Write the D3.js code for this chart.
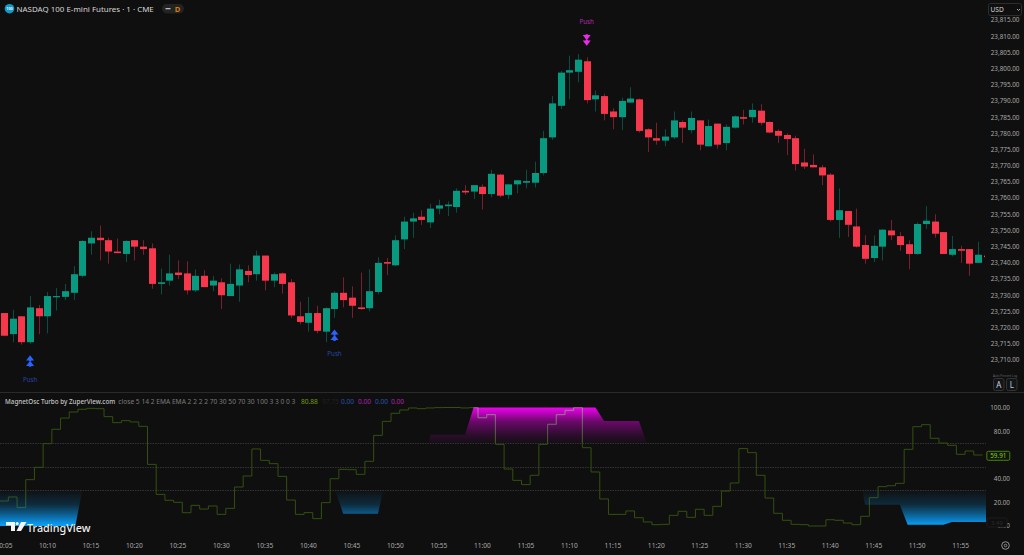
<!DOCTYPE html>
<html><head><meta charset="utf-8">
<script src="https://cdn.jsdelivr.net/npm/d3@7/dist/d3.min.js"></script>
<style>
html,body{margin:0;padding:0;background:#0f0f0f;overflow:hidden}
svg{display:block}
text{font-family:"Noto Sans","Open Sans",sans-serif}
</style></head><body>
<script>
// ---- data: one bar per minute, starting at 10:05
const opens=[23724.5,23718,23723.5,23715.5,23726,23723.5,23729.5,23729.5,23730.75,23736,23746,23747.75,23747,23743.5,23742.75,23747,23745,23744.5,23733.5,23734.5,23737,23736.75,23731.5,23736,23733,23734,23729.75,23733,23737.5,23736.5,23742.25,23734.5,23736.75,23734,23723.5,23721.5,23724.5,23718.75,23725.75,23730.75,23729.25,23726.25,23726,23731,23740.25,23739.25,23747.25,23752.75,23754.25,23752.5,23756.75,23757.5,23757.25,23762.25,23762,23763.5,23761.25,23767.25,23761,23764.25,23764.75,23764.75,23767.75,23778.75,23788.5,23798.75,23799,23802.25,23790.5,23791.5,23786.75,23785,23789.5,23790.5,23781.25,23778.5,23777.75,23778.75,23783.5,23781,23784,23776,23783,23777,23781.75,23785,23785,23787,23783.5,23780.75,23779.5,23778.5,23771,23770.25,23769.5,23767.25,23753.25,23756,23751.25,23745.5,23741.5,23745,23750,23748.25,23745.75,23742.75,23752,23752.75,23749.5,23742.5,23744.25,23744.25,23740,23742.25];
const highs=[23724.5,23725.5,23723.5,23729.75,23727,23731,23732.25,23733.5,23739,23747,23749.75,23751.5,23747.75,23747.5,23747,23747,23747,23746,23738.25,23742.5,23740.75,23740.5,23738,23737.75,23736,23735.25,23739.75,23739.5,23739.25,23743.75,23742.25,23737,23737,23735,23728,23729.5,23726.75,23726.25,23731.25,23735.5,23732.75,23737,23738,23741.75,23741.5,23748.5,23754.25,23755.5,23756.25,23758.25,23759.5,23759,23763,23764,23764,23764.25,23768.75,23767.5,23764.25,23765.5,23768.75,23771.25,23780.75,23791.5,23799.25,23804,23804.5,23803.5,23793.25,23792.25,23787.75,23791,23794.25,23790.75,23781.5,23783.25,23781.25,23786.75,23784,23786.75,23784,23784.25,23783,23782.75,23785.5,23787.25,23789.25,23789,23783.75,23781.25,23780,23779.25,23775.25,23773.5,23770.25,23767.75,23763,23756,23756.75,23748.5,23748.5,23750.5,23753.25,23749.5,23747,23752.5,23757.5,23755,23749.5,23748.25,23745.25,23744.25,23746.5,23742.25];
const lows=[23717.5,23715.5,23714.75,23715,23718,23718.25,23725.25,23728.5,23728.5,23735.5,23742.5,23740.75,23739.75,23743,23740.25,23740.75,23742.5,23732,23730.25,23733,23735,23730.25,23731,23732.5,23731.25,23725.75,23729.75,23728,23734,23734.5,23731.5,23732.5,23730.5,23723,23721,23718.75,23718.25,23715.5,23723,23726.25,23723,23725.5,23725,23730.25,23736.25,23739,23744.25,23747.75,23751.75,23750.75,23755,23754.5,23755.5,23761,23759.75,23756.5,23760.25,23760.25,23759.75,23761.5,23763,23763.25,23767,23778,23787.5,23790.5,23795.75,23789.25,23786.75,23784,23781.25,23781,23789.5,23780.25,23774.25,23776.5,23776,23778.25,23777,23780,23774.75,23776,23775.25,23774.75,23781.5,23782.75,23783.25,23782.5,23780,23777,23773.25,23768.5,23769,23769.5,23764,23752.75,23747.75,23748,23744.75,23739.75,23740.25,23740.75,23747,23743.75,23738,23742.5,23750.5,23747.75,23742.75,23742,23740,23736,23740,23741.75];
const closes=[23717.5,23722.75,23715.5,23726.25,23723.5,23729.75,23729.75,23731.25,23736.5,23746.75,23747.75,23747,23743.5,23743,23746.75,23745,23744.25,23733.5,23734,23736.75,23736.25,23731.5,23736,23732.5,23734.5,23730,23733.5,23738,23736.25,23742.25,23734.5,23736.5,23733.5,23723.75,23721.75,23724.5,23719,23726,23730.75,23728.5,23726.75,23725.75,23731.25,23740,23739.75,23747,23752.75,23753.75,23753.25,23756.75,23757.75,23758,23762.25,23761.75,23764,23761.25,23767.5,23760.75,23764.25,23765.5,23765.25,23767.75,23778.5,23789.25,23798.75,23799.5,23802.75,23790.25,23791.75,23786,23785,23790,23790.75,23780.75,23778.75,23777.75,23779,23784,23781.75,23784.75,23776.5,23782.25,23776.5,23782,23785.25,23784.5,23787.25,23783.25,23780.25,23779.25,23778.25,23770.5,23769.75,23769.5,23767,23753.25,23756.25,23751.75,23745,23741.25,23745.25,23750.25,23748.5,23745.5,23742.75,23752,23753,23749,23742.75,23744.25,23743.75,23739.75,23742.5,23741.75];
const oscValues=[21.1,24.5,15.5,39.1,49.5,69.5,81.6,91.1,96.2,98.5,99.3,99,92.3,87.2,88.9,87.8,84.1,52,26.7,21.7,20,11.2,17.4,14.3,16.9,9.8,14.9,32.9,42.2,65,55.4,52.6,41.9,21.9,9.8,11.3,6.2,19.7,39.9,47.8,47.5,43.6,54.6,76.5,88.3,95.1,97.9,99.6,99,99.6,99.9,100,100,99.6,99.9,91.4,94,68.9,48.1,38.5,34.9,42.8,68.9,85.8,94,97.6,99.9,66.1,45.6,22.8,9.8,9.8,12.7,7,3.4,1.1,1.4,9,12.4,7.3,14.1,9,16.6,29.5,36.3,65.3,61.9,42.8,23.6,10.7,4.8,1.4,1.1,0,0,5.3,4.8,2.5,1.1,8.2,23.9,33.2,34,36,64.7,83.8,85.5,74,70,68.1,60.5,63.3,59.91];
// overbought / oversold envelopes as [bar index, oscillator value]
const magentaZone=[[48.9,70],[49,77],[53,77],[54,100],[68,100],[69,88.6],[73,88.6],[73.9,70]];
const blueZoneA=[[-0.5,0],[8.2,0],[9,30]];
const blueZoneB=[[38.1,30],[39,10.4],[43,10.4],[43.6,30]];
const blueZoneC=[[98.7,30],[99,18],[103,18],[103.9,1.1],[108,1.1],[109,3.4],[113,3.4]];
const pushUps=[3,38];
const pushDowns=[67];
const priceTicks=d3.range(23710,23816,5);
const oscTicks=[100,80,40,20,0];
const oscLevels=[70,50,30];
const timeLabels=["10:05","10:10","10:15","10:20","10:25","10:30","10:35","10:40","10:45","10:50","10:55","11:00","11:05","11:10","11:15","11:20","11:25","11:30","11:35","11:40","11:45","11:50","11:55"];
const legendParams="close 5 14 2 EMA EMA 2 2 2 2 70 30 50 70 30 100 3 3 0 0 3";

// ---- scales
const W=1024,H=555,plotRight=985;
const x=d3.scaleLinear().domain([0,110]).range([4,960.7]);
const y=d3.scaleLinear().domain([23710,23815]).range([360,20]);
const yo=d3.scaleLinear().domain([0,100]).range([526,407.5]);
const bars=opens.map((o,i)=>({i,o,h:highs[i],l:lows[i],c:closes[i]}));

const svg=d3.select("body").append("svg").attr("width",W).attr("height",H);
svg.append("rect").attr("width",W).attr("height",H).attr("fill","#0f0f0f");
const defs=svg.append("defs");
defs.append("clipPath").attr("id","main").append("rect").attr("x",0).attr("y",0).attr("width",plotRight).attr("height",392);
defs.append("clipPath").attr("id","osc").append("rect").attr("x",0).attr("y",393).attr("width",plotRight+1).attr("height",142);
function gradient(id,c,top,bot,stops){
  const g=defs.append("linearGradient").attr("id",id).attr("gradientUnits","userSpaceOnUse")
    .attr("x1",0).attr("x2",0).attr("y1",yo(top)).attr("y2",yo(bot));
  stops.forEach(([o,a,col])=>g.append("stop").attr("offset",o).attr("stop-color",col||c).attr("stop-opacity",a));
}
gradient("mag","#f000f0",100,70,[[0,1],[0.38,0.42],[0.77,0.13],[1,0.03]]);
gradient("blu","#0a9cf5",1,30,[[0,1],[0.31,0.55],[0.59,0.2],[1,0.02]]);
gradient("lineInZone","#000",100,70,[[0,1,"#a88aa2"],[0.5,1,"#6a5a68"],[1,1,"#36540f"]]);

// ---- candles
const UP="#089981",DN="#f7384c",UPW="#0a4d42",DNW="#7a1f2c";
const gm=svg.append("g").attr("clip-path","url(#main)");
const gb=gm.selectAll("g").data(bars).join("g");
gb.append("line").attr("x1",d=>Math.round(x(d.i))+.5).attr("x2",d=>Math.round(x(d.i))+.5)
  .attr("y1",d=>y(d.h)).attr("y2",d=>y(d.l)).attr("stroke",d=>d.c>=d.o?UPW:DNW).attr("stroke-width",1);
gb.append("rect").attr("x",d=>Math.round(x(d.i))-3).attr("width",7)
  .attr("y",d=>y(Math.max(d.o,d.c))).attr("height",d=>Math.max(1.2,Math.abs(y(d.o)-y(d.c))))
  .attr("fill",d=>d.c>=d.o?UP:DN);

// ---- push markers
function chevrons(g,cx,cy,dir,color){ // dir -1 = up
  [0,5.5].forEach(dy=>{
    const t=cy+dy;
    g.append("path").attr("fill",color)
     .attr("d",`M${cx},${t+(dir<0?-3:3)}L${cx+4},${t+(dir<0?2.2:-2.2)}L${cx+1.2},${t+(dir<0?2.2:-2.2)}L${cx+1.2},${t+(dir<0?3:-3)}L${cx-1.2},${t+(dir<0?3:-3)}L${cx-1.2},${t+(dir<0?2.2:-2.2)}L${cx-4},${t+(dir<0?2.2:-2.2)}Z`);
  });
}
pushUps.forEach(k=>{
  const lo=y(lows[k]);
  chevrons(gm,x(k),lo+14.5,-1,"#2962ff");
  gm.append("text").attr("x",x(k)).attr("y",lo+38).attr("text-anchor","middle").attr("font-size",6.2).attr("fill","#2546a8").text("Push");
});
pushDowns.forEach(k=>{
  const hi=y(highs[k]);
  chevrons(gm,x(k),hi-20,1,"#e92be9");
  gm.append("text").attr("x",x(k)).attr("y",hi-33.5).attr("text-anchor","middle").attr("font-size",6.2).attr("fill","#b02cb0").text("Push");
});

// ---- oscillator
const go=svg.append("g").attr("clip-path","url(#osc)");
oscLevels.forEach(v=>go.append("line").attr("x1",0).attr("x2",plotRight+1)
  .attr("y1",Math.round(yo(v))+.5).attr("y2",Math.round(yo(v))+.5)
  .attr("stroke","#333").attr("stroke-width",1).attr("stroke-dasharray","1.5 1"));
const oscLine=d3.line().x(d=>x(d[0])).y(d=>yo(d[1])).curve(d3.curveStepAfter);
const oscPts=oscValues.map((v,i)=>[i-.5,v]);
oscPts.push([oscValues.length-.5,oscValues[oscValues.length-1]]);
go.append("path").attr("d",oscLine(oscPts)).attr("fill","none").attr("stroke","#33500f").attr("stroke-width",1);
const magArea=d3.area().x(d=>x(d[0])).y0(yo(70)).y1(d=>yo(d[1]));
go.append("path").attr("d",magArea(magentaZone)).attr("fill","url(#mag)");
defs.append("clipPath").attr("id","magClip").append("path").attr("d",magArea(magentaZone));
go.append("g").attr("clip-path","url(#magClip)").append("path").attr("d",oscLine(oscPts)).attr("fill","none").attr("stroke","url(#lineInZone)").attr("stroke-width",1);
const bluArea=d3.area().x(d=>x(d[0])).y0(yo(30)).y1(d=>yo(d[1]));
[blueZoneA,blueZoneB,blueZoneC].forEach(z=>go.append("path").attr("d",bluArea(z)).attr("fill","url(#blu)"));

// ---- separators
svg.append("line").attr("x1",0).attr("x2",W).attr("y1",392.5).attr("y2",392.5).attr("stroke","#2a2a2a");

// ---- axis texts
const axG="#a9a9a9",axFs=6.35;
const pa=svg.append("g");
pa.selectAll("text").data(priceTicks).join("text").attr("x",1019.5).attr("y",d=>y(d)+2.4)
  .attr("text-anchor","end").attr("font-size",axFs).attr("fill",axG).text(d=>d3.format(",.2f")(d));
svg.append("text").attr("x",1005).attr("y",376.5).attr("text-anchor","middle").attr("font-size",3).attr("fill","#666").text("Auto  Percent  Log");

const oa=svg.append("g");
oa.selectAll("text").data(oscTicks).join("text").attr("x",1010).attr("y",d=>yo(d)+2.4)
  .attr("text-anchor","end").attr("font-size",axFs).attr("fill",axG).text(d=>d3.format(".2f")(d));

const xTicks=timeLabels.map((t,i)=>({t,k:i*5}));
svg.selectAll(".tl").data(xTicks).join("text").attr("class","tl").attr("x",d=>x(d.k)).attr("y",547.8)
  .attr("text-anchor","middle").attr("font-size",6.6).attr("fill",axG).text(d=>d.t);

// ---- price-tag boxes
svg.append("rect").attr("x",987).attr("y",518).attr("width",20).attr("height",9).attr("rx",1.5).attr("fill","#0f0f0f").attr("stroke","#1d1d1d");
svg.append("text").attr("x",997).attr("y",525).attr("text-anchor","middle").attr("font-size",6).attr("fill","#2c2c2c").text("3.49");
svg.append("rect").attr("x",986.8).attr("y",451.3).attr("width",23).attr("height",9).attr("rx",1.5).attr("fill","#10180a").attr("stroke","#4f8a12").attr("stroke-width",.9);
svg.append("text").attr("x",998.3).attr("y",458.2).attr("text-anchor","middle").attr("font-size",6.3).attr("fill","#8ccf1f").text(d3.format(".2f")(oscValues[oscValues.length-1]));

// ---- header
svg.append("circle").attr("cx",9.5).attr("cy",8.7).attr("r",4.8).attr("fill","#0f9ac8");
svg.append("text").attr("x",9.5).attr("y",10.2).attr("text-anchor","middle").attr("font-size",3.8).attr("font-weight",700).attr("fill","#e8f6fb").text("100");
svg.append("text").attr("x",16.5).attr("y",11.6).attr("font-size",7.95).attr("fill","#d6d6d6").text("NASDAQ 100 E-mini Futures · 1 · CME");
svg.append("rect").attr("x",162).attr("y",4).attr("width",22).attr("height",9.5).attr("rx",4.7).attr("fill","#232323");
svg.append("rect").attr("x",165.5).attr("y",8).attr("width",5).attr("height",1.3).attr("fill","#b9b9b9");
svg.append("text").attr("x",177.5).attr("y",11.6).attr("text-anchor","middle").attr("font-size",7.5).attr("font-weight",700).attr("fill","#d97b0f").text("D");
svg.append("rect").attr("x",988.5).attr("y",3.5).attr("width",33).attr("height",12).attr("rx",2).attr("fill","#0f0f0f").attr("stroke","#2d2d2d");
svg.append("text").attr("x",990.5).attr("y",11.8).attr("font-size",6.6).attr("fill","#d6d6d6").text("USD");
svg.append("path").attr("d","M1017,9L1018.5,10.5L1020,9").attr("fill","none").attr("stroke","#cfcfcf").attr("stroke-width",.8);

// ---- A / L buttons
[["A",993.5,"#c8d4e8"],["L",1006.5,"#9fd0e0"]].forEach(([t,bx,c])=>{
  svg.append("rect").attr("x",bx).attr("y",378.5).attr("width",10.5).attr("height",12).attr("rx",2).attr("fill","#141414").attr("stroke","#333");
  svg.append("text").attr("x",bx+5.25).attr("y",387.5).attr("text-anchor","middle").attr("font-size",8).attr("fill",c).text(t);
});

// ---- legend
svg.append("text").attr("x",5).attr("y",403.5).attr("font-size",6.3).attr("font-weight",500).attr("fill","#c6c6c6").text("MagnetOsc Turbo by ZuperView.com");
svg.append("text").attr("x",118.3).attr("y",403.5).attr("font-size",6.65).attr("fill","#7c7c7c").text(legendParams);
const legendVals=[["80.88",301,"#6f9f12"],["97.75",322,"#222222"],["0.00",341,"#2a50b0"],["0.00",358,"#b020b0"],["0.00",375,"#2a50b0"],["0.00",391,"#b020b0"]];
legendVals.forEach(([t,lx,c])=>svg.append("text").attr("x",lx).attr("y",403.5).attr("font-size",6.6).attr("fill",c).text(t));

// ---- logo and settings
const lg=svg.append("g").attr("transform","translate(6,522)");
lg.append("path").attr("fill","#f4f4f4").attr("d","M0,0H9V9H5V3.5H0Z");
lg.append("circle").attr("cx",11.2).attr("cy",1.6).attr("r",1.6).attr("fill","#f4f4f4");
lg.append("path").attr("fill","#f4f4f4").attr("d","M15,0H20.5L15,9H10.5Z");
svg.append("text").attr("x",27).attr("y",531.5).attr("font-size",10.8).attr("font-weight",500).attr("fill","#efefef").text("TradingView");
svg.append("circle").attr("cx",1005.5).attr("cy",545.5).attr("r",3.8).attr("fill","none").attr("stroke","#a0a0a0").attr("stroke-width",.9);
svg.append("circle").attr("cx",1005.5).attr("cy",545.5).attr("r",1.3).attr("fill","none").attr("stroke","#a0a0a0").attr("stroke-width",.8);
</script>
</body></html>
